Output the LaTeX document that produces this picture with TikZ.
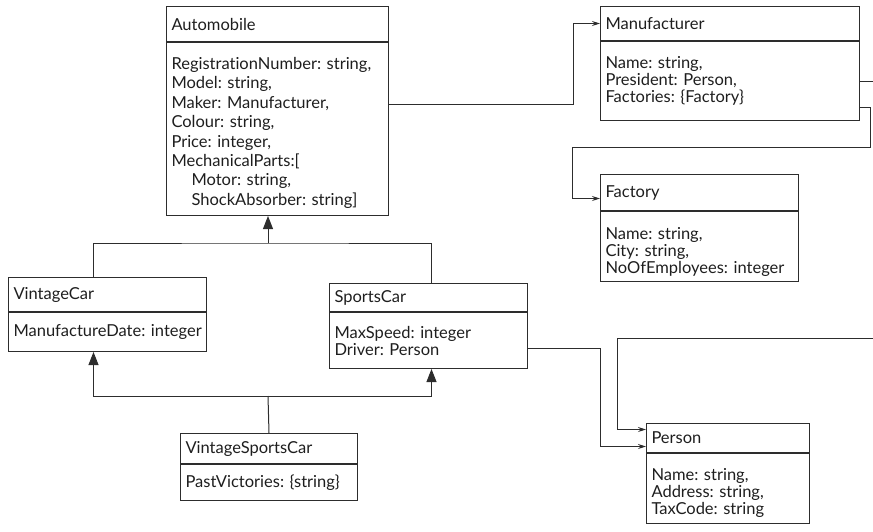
\documentclass[tikz,border=0pt]{standalone}
\usepackage{fontspec}
\setmainfont{Lato}[Ligatures=NoCommon]
\usetikzlibrary{arrows.meta, positioning, calc}
\definecolor{umlLine}{RGB}{45, 45, 45}
\definecolor{umlText}{RGB}{30, 30, 30}
\frenchspacing
\hyphenpenalty=10000
\exhyphenpenalty=10000

\begin{document}
\begin{tikzpicture}[x=1pt, y=-1pt, line width=1pt,
  font=\fontsize{16.5}{17}\selectfont, text=umlText,
  hd/.style={draw=umlLine, anchor=north west, inner xsep=5pt, inner ysep=0pt, align=left},
  bd/.style={draw=umlLine, anchor=north, inner xsep=5pt, inner ysep=0pt, align=left},
  assoc/.style={draw=umlLine, -{Stealth[length=8pt, width=5pt]}},
  isa/.style={draw=umlLine, -{Triangle[length=13pt, width=10pt]}},
  link/.style={draw=umlLine}]

  \useasboundingbox (0,0) rectangle (873,531);
  \clip (0,0) rectangle (873,531);

  % classes
  \node[hd, text width=212pt, minimum height=35pt] (autoH) at (166,6) {Automobile};
  \node[bd, text width=212pt, minimum height=173pt, font=\fontsize{16.5}{19.4}\selectfont] (autoB) at (autoH.south)
    {\rule{0pt}{20pt}RegistrationNumber: string,\\ Model: string,\\ Maker: Manufacturer,\\ Colour: string,\\
     Price: integer,\\ MechanicalParts:[\\ \hspace*{20pt}Motor: string,\\ \hspace*{20pt}ShockAbsorber: string]};

  \node[hd, text width=249pt, minimum height=34pt] (manH) at (600,6) {Manufacturer};
  \node[bd, text width=249pt, minimum height=79pt] (manB) at (manH.south)
    {Name: string,\\ President: Person,\\ Factories: \{Factory\}};

  \node[hd, text width=188pt, minimum height=36pt] (facH) at (600,174) {Factory};
  \node[bd, text width=188pt, minimum height=70pt] (facB) at (facH.south)
    {\rule{0pt}{22pt}Name: string,\\ City: string,\\ NoOfEmployees: integer};

  \node[hd, text width=188pt, minimum height=34pt] (vcH) at (8,277) {VintageCar};
  \node[bd, text width=188pt, minimum height=39pt] (vcB) at (vcH.south)
    {\mbox{ManufactureDate: integer}};

  \node[hd, text width=188pt, minimum height=28pt] (scH) at (329,283) {SportsCar};
  \node[bd, text width=188pt, minimum height=56pt] (scB) at (scH.south)
    {MaxSpeed: integer\\ Driver: Person};

  \node[hd, text width=167pt, minimum height=30pt] (vsH) at (180,433) {VintageSportsCar};
  \node[bd, text width=167pt, minimum height=36pt] (vsB) at (vsH.south)
    {PastVictories: \{string\}};

  \node[hd, text width=153pt, minimum height=29pt] (perH) at (646,423) {Person};
  \node[bd, text width=153pt, minimum height=70pt] (perB) at (perH.south)
    {\rule{0pt}{20pt}Name: string,\\ Address: string,\\ TaxCode: string};

  % bend points
  \coordinate (inhTop) at (268,243);
  \coordinate (inhBot) at (268,396);
  \coordinate (bendA) at (573,104);
  \coordinate (fB1) at (870,107);
  \coordinate (fB2) at (572,147);
  \coordinate (pB1) at (890,81);
  \coordinate (pB2) at (617,338);
  \coordinate (sB1) at (600,348);

  % inheritance
  \draw[link] ([xshift=-14pt]vcH.north) |- (inhTop) -| ([xshift=3pt]scH.north);
  \draw[isa] (inhTop) -- (inhTop |- autoB.south);
  \draw[link] (vsH.north) -- (inhBot);
  \draw[isa] (inhBot) -| ([xshift=-14pt]vcB.south);
  \draw[isa] (inhBot) -| ([xshift=3pt]scB.south);

  % references
  \draw[assoc] (autoB.east |- bendA) -- (bendA) |- (manH.west);
  \draw[assoc] (manB.east |- fB1) -- (fB1) |- (fB2) |- ([yshift=-6pt]facH.west);
  \draw[assoc] (manB.east |- pB1) -- (pB1) |- (pB2) |- ([yshift=8.5pt]perH.west);
  \draw[assoc] (scB.east |- sB1) -- (sB1) |- ([yshift=-8.5pt]perH.west);

\end{tikzpicture}
\end{document}
